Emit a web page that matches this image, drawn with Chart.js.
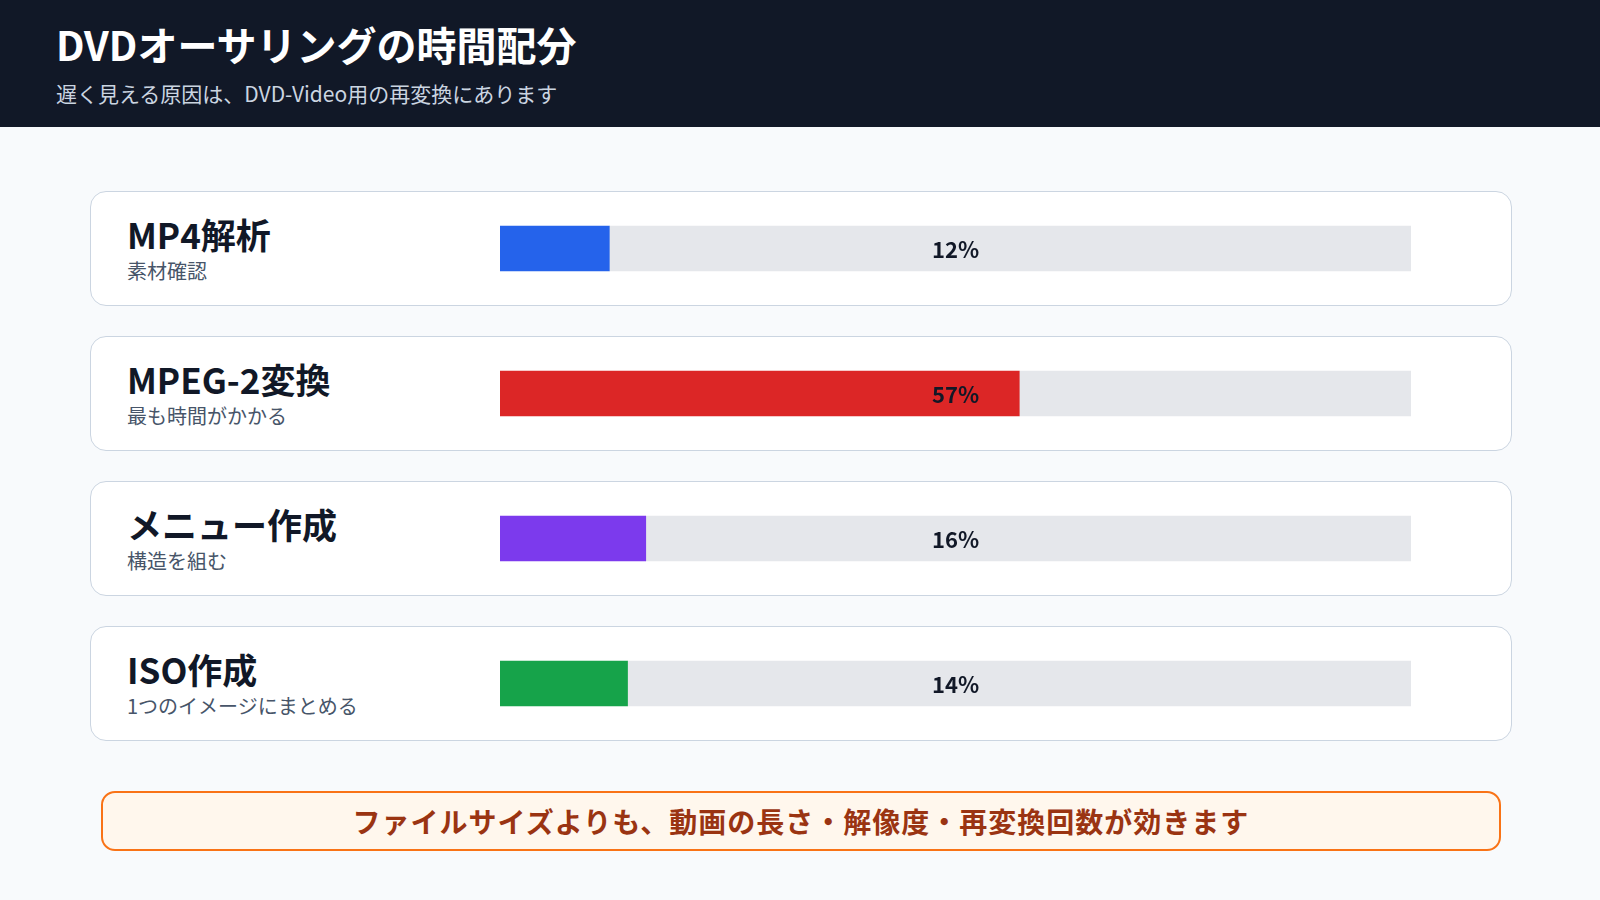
<!DOCTYPE html>
<html><head><meta charset="utf-8">
<script src="https://cdn.jsdelivr.net/npm/chart.js@4"></script>
<style>
body{margin:0;width:1600px;height:900px;background:#f8fafc;font-family:"Noto Sans CJK JP","Noto Sans",sans-serif;position:relative;overflow:hidden}
#head{position:absolute;left:0;top:0;width:1600px;height:127px;background:#111827;color:#fff}
#head h1{position:absolute;left:56px;top:20px;margin:0;font-size:40px;font-weight:700;line-height:1.2}
#head p{position:absolute;left:56px;top:78px;margin:0;font-size:21px;color:#cbd5e1}
.card{position:absolute;left:90px;width:1420px;height:113px;background:#fff;border:1.5px solid #cbd5e1;border-radius:16px}
.card b{position:absolute;left:36px;top:16px;font-size:35px;color:#111827}
.card span{position:absolute;left:36px;top:64px;font-size:20px;color:#475569}
#wrap{position:absolute;left:500px;top:176px;width:911px;height:580px}
#note{position:absolute;left:101px;top:791px;width:1396px;height:56px;background:#fff7ed;border:2px solid #f97316;border-radius:14px;color:#9a3412;font-size:28px;font-weight:700;text-align:center;line-height:56px;letter-spacing:1px}
</style></head><body>
<div id="head"><h1>DVDオーサリングの時間配分</h1><p>遅く見える原因は、DVD-Video用の再変換にあります</p></div>
<div id="cards"></div>
<div id="wrap"><canvas id="chart"></canvas></div>
<div id="note">ファイルサイズよりも、動画の長さ・解像度・再変換回数が効きます</div>
<script>
const stages = ["MP4解析", "MPEG-2変換", "メニュー作成", "ISO作成"];
const notes = ["素材確認", "最も時間がかかる", "構造を組む", "1つのイメージにまとめる"];
const shares = [12, 57, 16, 14];
const colors = ["#2563eb", "#dc2626", "#7c3aed", "#16a34a"];

const cards = document.getElementById("cards");
stages.forEach((s, i) => {
  const d = document.createElement("div");
  d.className = "card";
  d.style.top = (191 + i * 145) + "px";
  d.innerHTML = `<b>${s}</b><span>${notes[i]}</span>`;
  cards.appendChild(d);
});

const centerLabel = {
  id: "centerLabel",
  afterDatasetsDraw(chart) {
    const ctx = chart.ctx;
    const x = chart.scales.x.getPixelForValue(50);
    ctx.save();
    ctx.font = "bold 22px 'Noto Sans CJK JP'";
    ctx.fillStyle = "#111827";
    ctx.textAlign = "center";
    ctx.textBaseline = "middle";
    shares.forEach((v, i) => {
      ctx.fillText(v + "%", x, chart.scales.y.getPixelForValue(i) + 1);
    });
    ctx.restore();
  }
};

new Chart(document.getElementById("chart"), {
  type: "bar",
  data: {
    labels: stages,
    datasets: [
      { data: shares, backgroundColor: colors, barThickness: 45 },
      { data: shares.map(v => 100 - v), backgroundColor: "#e5e7eb", barThickness: 45 }
    ]
  },
  options: {
    indexAxis: "y",
    responsive: true,
    maintainAspectRatio: false,
    animation: false,
    layout: { padding: 0 },
    plugins: { legend: { display: false }, tooltip: { enabled: false } },
    scales: {
      x: { stacked: true, min: 0, max: 100, display: false },
      y: { stacked: true, display: false, offset: true }
    }
  },
  plugins: [centerLabel]
});
</script>
</body></html>
